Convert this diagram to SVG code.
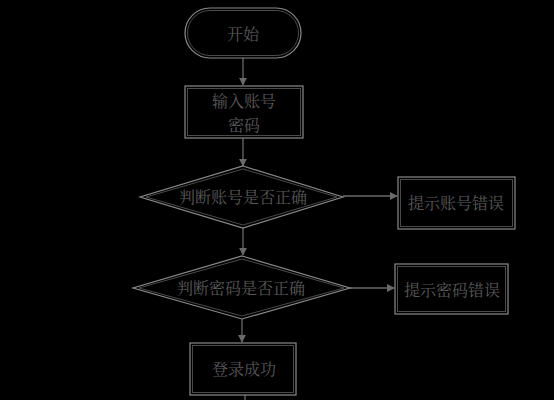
<svg xmlns="http://www.w3.org/2000/svg" width="554" height="400" viewBox="0 0 554 400">
<defs>
<style>
.o{fill:none;stroke:#8a8a8a;stroke-width:1.2}
.i{fill:none;stroke:#4a4a4a;stroke-width:1}
.t{fill:#595959;font-family:"Liberation Serif","Noto Serif CJK SC","Noto Sans CJK SC",serif;font-size:16px;text-anchor:middle;dominant-baseline:central}
.c{fill:none;stroke:#6a6a6a;stroke-width:1.3}
</style>
<marker id="a" viewBox="0 0 10 10" refX="9" refY="5" markerWidth="8" markerHeight="8" markerUnits="userSpaceOnUse" orient="auto">
<path d="M0,0 L10,5 L0,10 z" fill="#6a6a6a"/>
</marker>
</defs>
<rect width="554" height="400" fill="#000"/>
<g id="connectors">
<line class="c" x1="243" y1="58" x2="243" y2="85" marker-end="url(#a)"/>
<line class="c" x1="243" y1="138" x2="243" y2="166" marker-end="url(#a)"/>
<line class="c" x1="343" y1="196" x2="397" y2="196" marker-end="url(#a)"/>
<line class="c" x1="243" y1="228" x2="243" y2="255" marker-end="url(#a)"/>
<line class="c" x1="350" y1="288" x2="394" y2="288" marker-end="url(#a)"/>
<line class="c" x1="242" y1="319" x2="242" y2="342" marker-end="url(#a)"/>
<line class="c" x1="245" y1="395" x2="245" y2="400"/>
</g>
<g id="start">
<rect class="o" x="185" y="8" width="116" height="50" rx="25"/>
<rect class="i" x="187.5" y="10.5" width="111" height="45" rx="22.5"/>
<text class="t" x="243" y="34">开始</text>
</g>
<g id="input">
<rect class="o" x="185" y="86" width="118" height="52"/>
<rect class="i" x="187.5" y="88.5" width="113" height="47"/>
<text class="t" x="244" y="101">输入账号</text>
<text class="t" x="244" y="125">密码</text>
</g>
<g id="check-account">
<polygon class="o" points="243,166 343,197 243,228 140,197"/>
<polygon class="i" points="243,169 337,197 243,225 146,197"/>
<text class="t" x="243" y="197">判断账号是否正确</text>
</g>
<g id="account-error">
<rect class="o" x="398" y="177" width="117" height="52"/>
<rect class="i" x="400.5" y="179.5" width="112" height="47"/>
<text class="t" x="456" y="203">提示账号错误</text>
</g>
<g id="check-password">
<polygon class="o" points="242,256 350,288 242,319 133,288"/>
<polygon class="i" points="242,259 344,288 242,316 139,288"/>
<text class="t" x="241" y="288">判断密码是否正确</text>
</g>
<g id="password-error">
<rect class="o" x="395" y="264" width="113" height="50"/>
<rect class="i" x="397.5" y="266.5" width="108" height="45"/>
<text class="t" x="452" y="290">提示密码错误</text>
</g>
<g id="login-success">
<rect class="o" x="190" y="343" width="106" height="52"/>
<rect class="i" x="192.5" y="345.5" width="101" height="47"/>
<text class="t" x="244" y="369">登录成功</text>
</g>
</svg>
